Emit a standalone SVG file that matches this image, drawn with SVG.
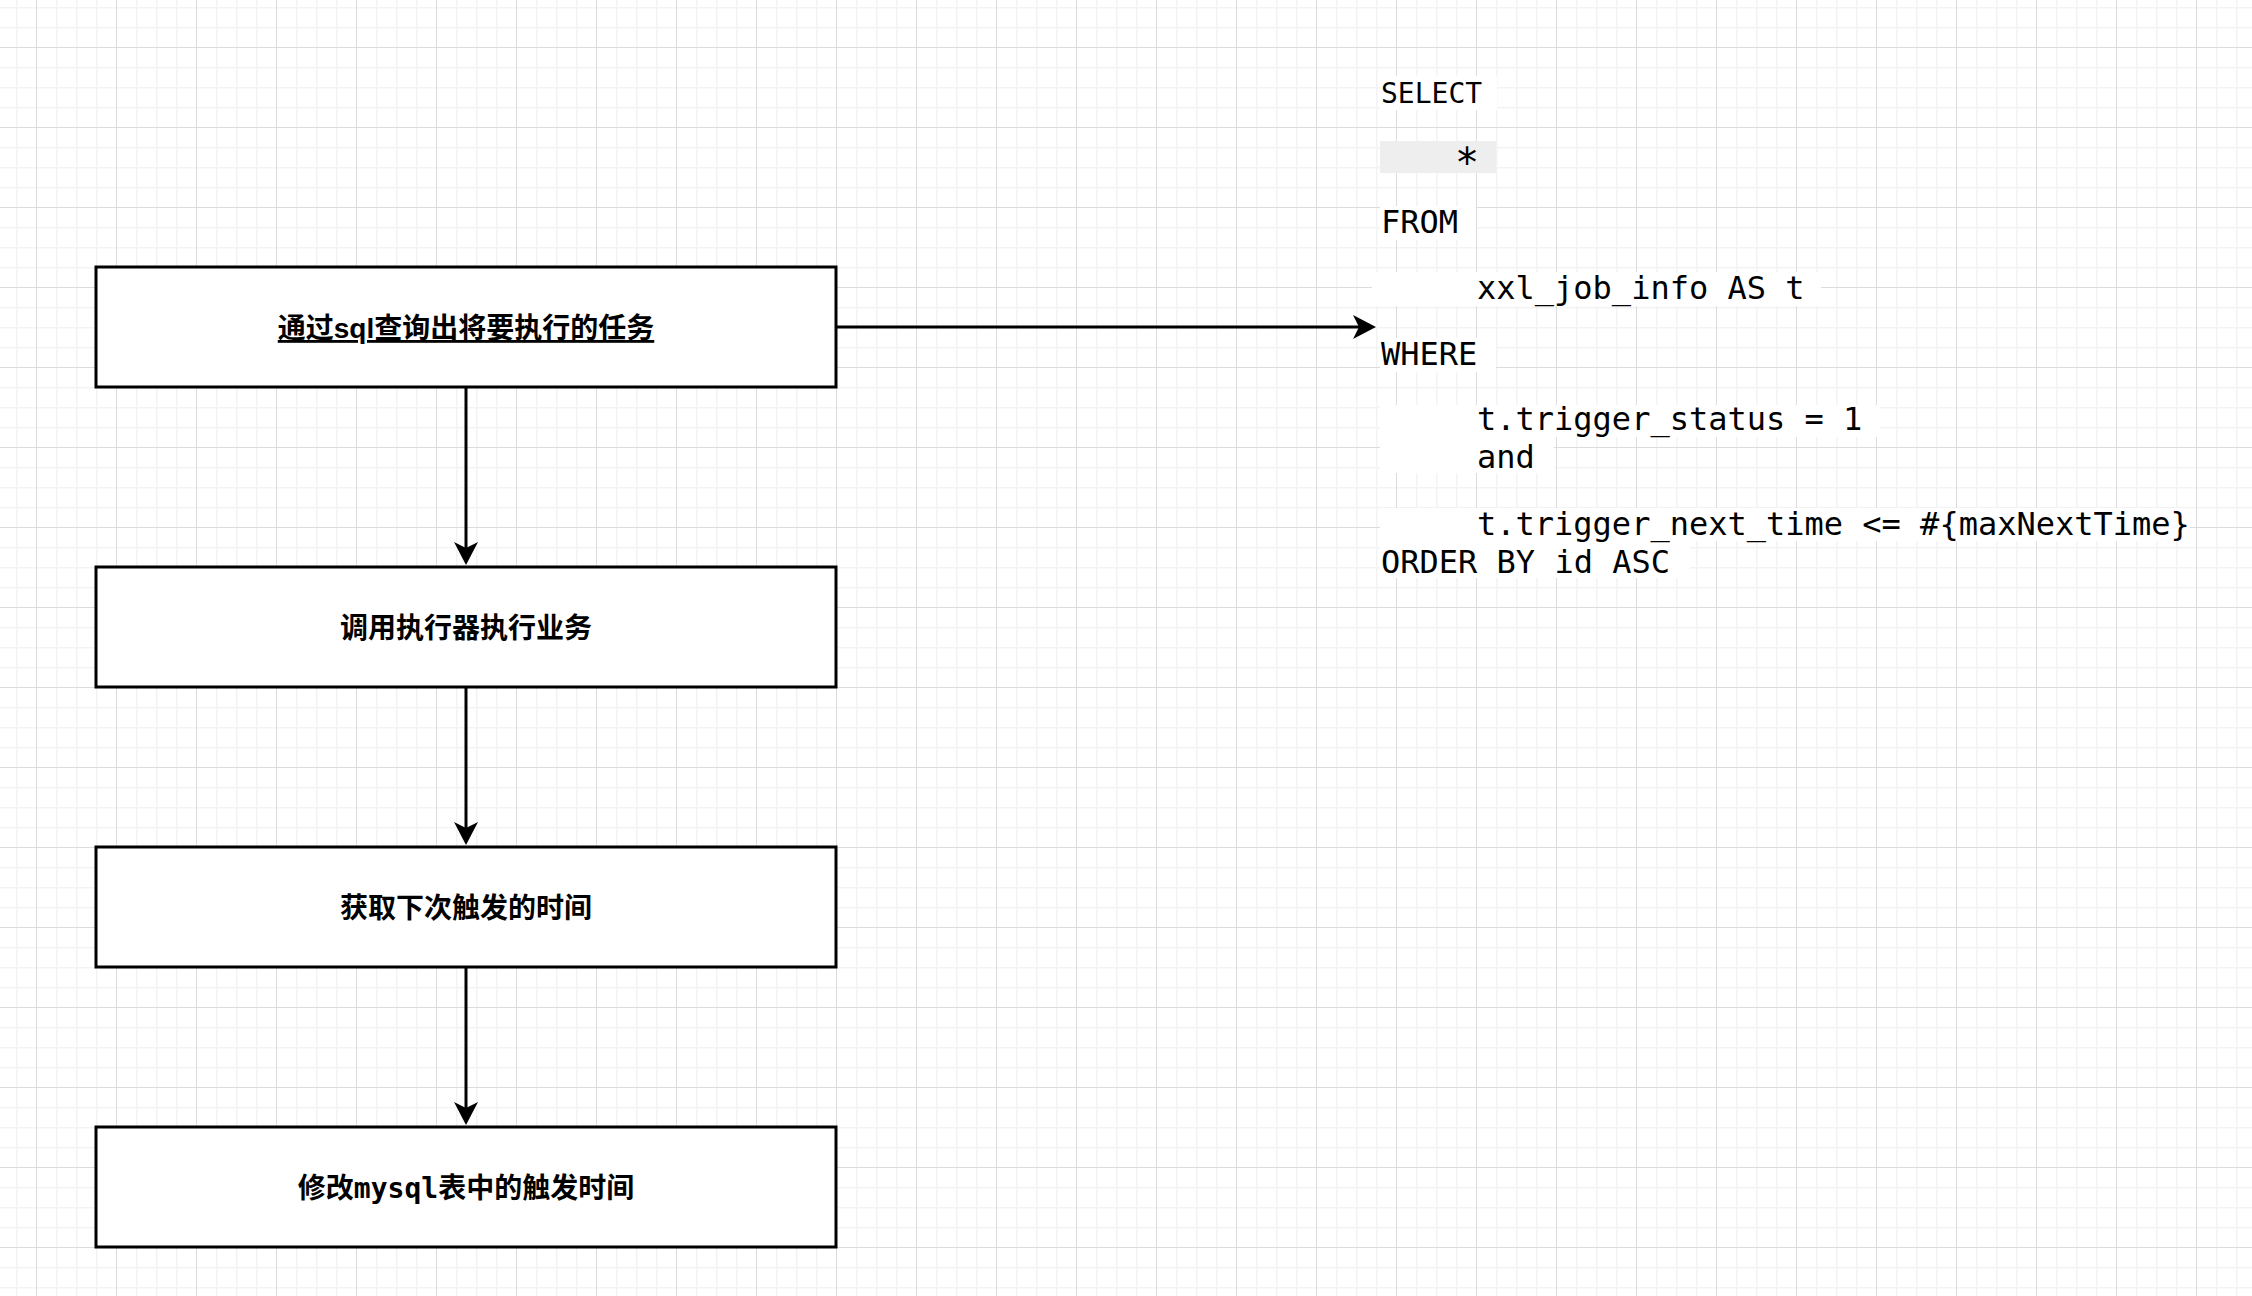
<svg xmlns="http://www.w3.org/2000/svg" width="2252" height="1296" viewBox="0 0 2252 1296">
  <defs>
    <pattern id="grid" x="36" y="47" width="80" height="80" patternUnits="userSpaceOnUse">
      <rect x="0" y="0" width="80" height="80" fill="#ffffff"/>
      <g fill="#f3f3f3">
        <rect x="20" y="0" width="1.5" height="80"/>
        <rect x="40" y="0" width="1.5" height="80"/>
        <rect x="60" y="0" width="1.5" height="80"/>
        <rect x="0" y="20" width="80" height="1.5"/>
        <rect x="0" y="40" width="80" height="1.5"/>
        <rect x="0" y="60" width="80" height="1.5"/>
      </g>
      <g fill="#dcdcdc">
        <rect x="0" y="0" width="1" height="80"/>
        <rect x="0" y="0" width="80" height="1"/>
      </g>
    </pattern>
    <marker id="arrow" viewBox="0 0 24 24" markerWidth="24" markerHeight="24" refX="6" refY="12" orient="auto" markerUnits="userSpaceOnUse">
      <path d="M0,0 L23,12 L0,24 L6,12 Z" fill="#000000"/>
    </marker>
  </defs>
  <style>
    .box { fill: #ffffff; stroke: #000000; stroke-width: 3; }
    .lbl { font-family: "Liberation Sans", "Noto Sans CJK SC", sans-serif; font-size: 28px; font-weight: bold; fill: #000000; text-anchor: middle; }
    .mono { font-family: "DejaVu Sans Mono", "Liberation Mono", monospace; }
    .sql { font-family: "DejaVu Sans Mono", "Liberation Mono", monospace; font-size: 32px; fill: #000000; }
    .sql-small { font-size: 28px; }
    .star { font-size: 40px; text-anchor: middle; }
    .edge { fill: none; stroke: #000000; stroke-width: 3; marker-end: url(#arrow); }
    .bgw { fill: #ffffff; }
  </style>
  <rect x="0" y="0" width="2252" height="1296" fill="url(#grid)"/>

  <g id="connectors">
    <path class="edge" d="M836,327 L1359,327"/>
    <path class="edge" d="M466,387 L466,548"/>
    <path class="edge" d="M466,687 L466,828"/>
    <path class="edge" d="M466,967 L466,1108"/>
  </g>

  <g id="node-query">
    <rect class="box" x="96" y="267" width="740" height="120"/>
    <text class="lbl" x="466" y="338" text-decoration="underline">通过sql查询出将要执行的任务</text>
  </g>
  <g id="node-execute">
    <rect class="box" x="96" y="567" width="740" height="120"/>
    <text class="lbl" x="466" y="638">调用执行器执行业务</text>
  </g>
  <g id="node-next-time">
    <rect class="box" x="96" y="847" width="740" height="120"/>
    <text class="lbl" x="466" y="918">获取下次触发的时间</text>
  </g>
  <g id="node-update">
    <rect class="box" x="96" y="1127" width="740" height="120"/>
    <text class="lbl" x="466" y="1198">修改<tspan class="mono">mysql</tspan>表中的触发时间</text>
  </g>

  <g id="node-sql">
    <rect class="bgw" x="1380" y="76" width="117" height="34"/>
    <rect x="1380" y="141" width="116" height="32" fill="#eeeeee"/>
    <rect class="bgw" x="1380" y="206" width="96" height="34"/>
    <rect class="bgw" x="1372" y="272" width="449" height="34"/>
    <rect class="bgw" x="1380" y="338" width="116" height="34"/>
    <rect class="bgw" x="1380" y="405" width="500" height="32"/>
    <rect class="bgw" x="1380" y="437" width="174" height="36"/>
    <rect class="bgw" x="1380" y="508" width="810" height="33"/>
    <rect class="bgw" x="1380" y="541" width="310" height="37"/>
    <text class="sql sql-small" x="1381" y="103">SELECT</text>
    <text class="sql star" x="1467" y="177">*</text>
    <text class="sql" x="1381" y="233">FROM</text>
    <text class="sql" x="1477" y="299">xxl_job_info AS t</text>
    <text class="sql" x="1381" y="365">WHERE</text>
    <text class="sql" x="1477" y="430">t.trigger_status = 1</text>
    <text class="sql" x="1477" y="468">and</text>
    <text class="sql" x="1477" y="535">t.trigger_next_time &lt;= #{maxNextTime}</text>
    <text class="sql" x="1381" y="573">ORDER BY id ASC</text>
  </g>
</svg>
